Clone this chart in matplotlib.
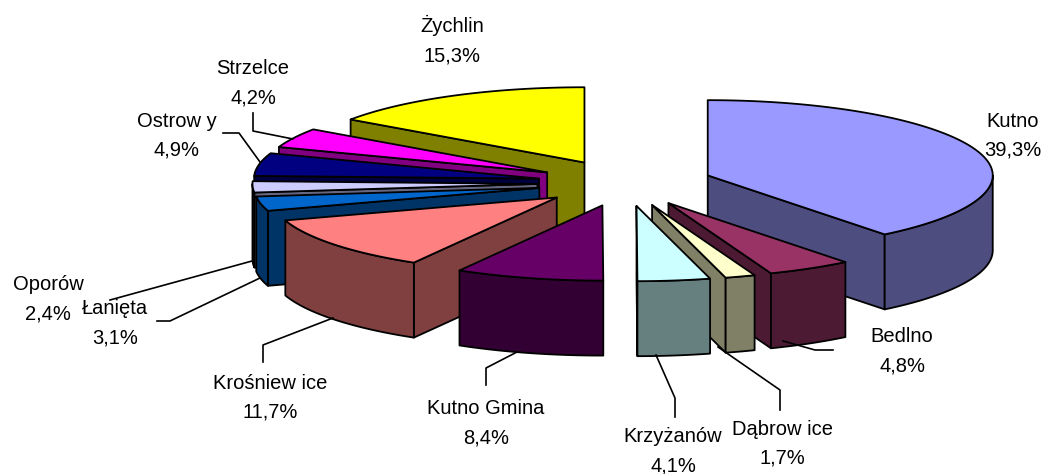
import numpy as np
import matplotlib.pyplot as plt
from matplotlib.patches import Polygon

# dane (kolejność zgodnie z ruchem wskazówek zegara od godziny 12)
names = ["Kutno", "Bedlno", "Dąbrow ice", "Krzyżanów", "Kutno Gmina", "Krośniew ice",
         "Łanięta", "Oporów", "Ostrow y", "Strzelce", "Żychlin"]
shares = [39.3, 4.8, 1.7, 4.1, 8.4, 11.7, 3.1, 2.4, 4.9, 4.2, 15.3]
colors = ["#9999FF", "#993366", "#FFFFCC", "#CCFFFF", "#660066", "#FF8080",
          "#0066CC", "#CCCCFF", "#000080", "#FF00FF", "#FFFF00"]

# układ etykiet (piksele): środek nazwy
label_pos = [(1013, 120), (902, 335), (782, 428), (673, 435), (486, 407), (270, 382),
             (115, 307), (48, 283), (177, 120), (253, 67), (452, 25)]
leaders = [
    None,
    [(783, 341), (815, 350), (833, 350)],
    [(718, 347), (780, 390), (780, 410)],
    [(656, 355), (675, 398), (675, 417)],
    [(517, 352), (486, 368), (486, 385)],
    [(333, 318), (263, 345), (263, 362)],
    [(260, 278), (170, 321), (157, 321)],
    [(252, 261), (110, 300)],
    [(260, 162), (239, 133), (223, 133)],
    [(293, 139), (253, 131), (253, 113)],
    None,
]

# geometria wykresu 3D
CX, CY = 625, 183
R, K, DEPTH, EXPLODE = 285, 0.264, 75, 87.6

fig = plt.figure(figsize=(10.48, 4.74), dpi=100)
ax = fig.add_axes([0, 0, 1, 1])
ax.set_xlim(0, 1048)
ax.set_ylim(474, 0)
ax.axis("off")


def dark(c):
    r, g, b = plt.matplotlib.colors.to_rgb(c)
    return (r * 0.5, g * 0.5, b * 0.5)


def rim(apex, th, z=0):
    x = apex[0] + R * np.sin(th)
    y = apex[1] - R * K * np.cos(th) + z
    return np.column_stack([x, y])


frac = np.array(shares) / sum(shares)
ends = np.cumsum(frac) * 2 * np.pi
starts = ends - frac * 2 * np.pi

slices = []
for i in range(len(shares)):
    mid = (starts[i] + ends[i]) / 2
    apex = (CX + EXPLODE * np.sin(mid), CY - EXPLODE * K * np.cos(mid))
    slices.append((apex[1], i, apex))
slices.sort()

ec = dict(edgecolor="black", linewidth=1.3, joinstyle="round")
for order, (_, i, apex) in enumerate(slices):
    t0, t1 = starts[i], ends[i]
    top_c, side_c = colors[i], dark(colors[i])
    zo = 2 + order
    # ściany boczne (promieniowe)
    for th, vis in ((t0, np.sin(t0) < -1e-3), (t1, np.sin(t1) > 1e-3)):
        if vis:
            p = rim(apex, np.array([th]))[0]
            poly = [apex, p, (p[0], p[1] + DEPTH), (apex[0], apex[1] + DEPTH)]
            ax.add_patch(Polygon(poly, closed=True, facecolor=side_c, zorder=zo, **ec))
    # ściana zewnętrzna (tylko przód)
    a, b = max(t0, np.pi / 2), min(t1, 3 * np.pi / 2)
    if b > a:
        th = np.linspace(a, b, 60)
        upper = rim(apex, th)
        lower = rim(apex, th[::-1], DEPTH)
        ax.add_patch(Polygon(np.vstack([upper, lower]), closed=True,
                             facecolor=side_c, zorder=zo, **ec))
    # wierzch
    th = np.linspace(t0, t1, max(8, int(frac[i] * 400)))
    top = np.vstack([[apex], rim(apex, th)])
    ax.add_patch(Polygon(top, closed=True, facecolor=top_c, zorder=zo + 0.5, **ec))

# etykiety i linie odniesienia
for i in range(len(names)):
    x, y = label_pos[i]
    pct = f"{shares[i]:.1f}%".replace(".", ",")
    ax.text(x, y + 7, names[i], ha="center", va="baseline", fontsize=14.5,
            family="Liberation Sans", zorder=30)
    ax.text(x, y + 36, pct, ha="center", va="baseline", fontsize=14.5,
            family="Liberation Sans", zorder=30)
    if leaders[i]:
        xs, ys = zip(*leaders[i])
        ax.plot(xs, ys, color="black", linewidth=1.2, zorder=29)

fig.savefig("out.png", dpi=100)
